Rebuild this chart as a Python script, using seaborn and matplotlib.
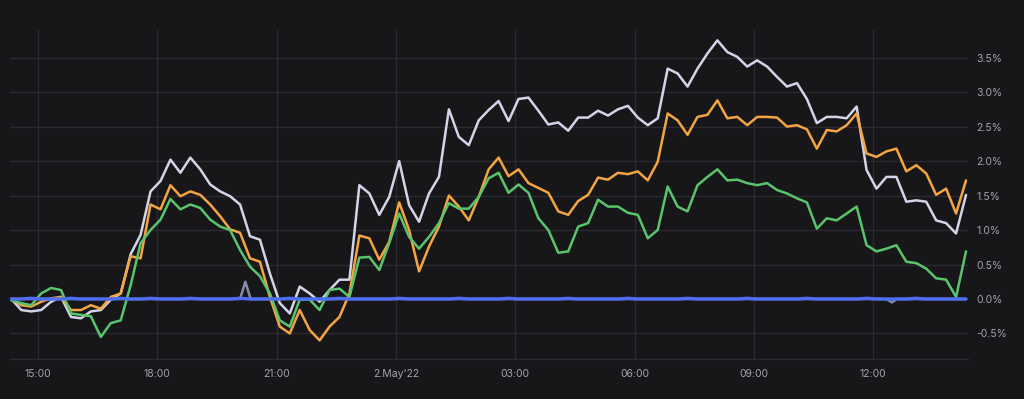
import pandas as pd
import matplotlib
matplotlib.use("Agg")
import matplotlib.pyplot as plt
import seaborn as sns

# 15-minute samples, 1 May 2022 14:20 -> 2 May 2022 14:20 (percent change)
times = pd.date_range("2022-05-01 14:20", "2022-05-02 14:20", freq="15min")

white = [0.00, -0.16, -0.18, -0.16, -0.04, 0.03, -0.26, -0.28, -0.18, -0.16,
         -0.01, 0.08, 0.65, 0.93, 1.56, 1.71, 2.02, 1.83, 2.05, 1.88,
         1.66, 1.56, 1.49, 1.37, 0.91, 0.86, 0.37, -0.06, -0.21, 0.18,
         0.08, -0.04, 0.13, 0.28, 0.28, 1.65, 1.53, 1.22, 1.48, 2.00,
         1.36, 1.12, 1.53, 1.77, 2.75, 2.35, 2.23, 2.59, 2.74, 2.87,
         2.58, 2.90, 2.92, 2.73, 2.53, 2.56, 2.44, 2.63, 2.63, 2.73,
         2.66, 2.75, 2.80, 2.63, 2.52, 2.62, 3.34, 3.27, 3.08, 3.34,
         3.56, 3.75, 3.58, 3.51, 3.37, 3.46, 3.37, 3.22, 3.08, 3.13,
         2.90, 2.55, 2.64, 2.64, 2.62, 2.79, 1.87, 1.60, 1.77, 1.77,
         1.41, 1.43, 1.41, 1.14, 1.10, 0.95, 1.51]

orange = [0.00, -0.09, -0.11, -0.04, 0.01, 0.03, -0.16, -0.16, -0.09, -0.14,
          0.03, 0.08, 0.62, 0.59, 1.37, 1.30, 1.65, 1.49, 1.56, 1.51,
          1.37, 1.20, 1.01, 0.96, 0.59, 0.54, 0.03, -0.40, -0.50, -0.16,
          -0.45, -0.60, -0.40, -0.26, 0.08, 0.92, 0.88, 0.57, 0.83, 1.40,
          1.00, 0.40, 0.76, 1.05, 1.50, 1.34, 1.14, 1.48, 1.88, 2.05,
          1.78, 1.88, 1.68, 1.61, 1.54, 1.27, 1.22, 1.42, 1.51, 1.76,
          1.73, 1.83, 1.81, 1.85, 1.72, 1.99, 2.69, 2.59, 2.38, 2.64,
          2.67, 2.88, 2.62, 2.64, 2.52, 2.64, 2.64, 2.63, 2.50, 2.52,
          2.46, 2.18, 2.45, 2.43, 2.52, 2.69, 2.11, 2.06, 2.14, 2.18,
          1.85, 1.94, 1.82, 1.51, 1.60, 1.24, 1.72]

green = [-0.02, -0.06, -0.09, 0.08, 0.16, 0.13, -0.21, -0.23, -0.25, -0.55,
         -0.35, -0.31, 0.20, 0.81, 1.00, 1.15, 1.45, 1.30, 1.37, 1.32,
         1.15, 1.05, 1.00, 0.71, 0.47, 0.33, 0.08, -0.31, -0.40, -0.01,
         -0.01, -0.16, 0.13, 0.15, 0.03, 0.60, 0.61, 0.42, 0.81, 1.24,
         0.90, 0.73, 0.90, 1.10, 1.39, 1.31, 1.31, 1.48, 1.75, 1.83,
         1.54, 1.66, 1.54, 1.17, 1.00, 0.67, 0.69, 1.05, 1.10, 1.44,
         1.34, 1.34, 1.25, 1.22, 0.88, 1.00, 1.63, 1.34, 1.27, 1.65,
         1.77, 1.88, 1.72, 1.73, 1.68, 1.65, 1.68, 1.58, 1.53, 1.46,
         1.40, 1.02, 1.17, 1.14, 1.24, 1.34, 0.78, 0.69, 0.73, 0.78,
         0.54, 0.52, 0.44, 0.30, 0.28, 0.03, 0.69]

blue = [0.00, 0.00, 0.01, 0.00, 0.00, 0.00, 0.01, 0.00, 0.00, 0.00,
        0.00, 0.01, 0.00, 0.00, 0.01, 0.00, 0.00, 0.00, 0.01, 0.00,
        0.00, 0.00, 0.00, 0.01, 0.00, 0.00, 0.00, 0.00, 0.01, 0.00,
        0.00, 0.00, 0.00, 0.01, 0.00, 0.00, 0.00, 0.00, 0.00, 0.01,
        0.00, 0.00, 0.00, 0.00, 0.00, 0.01, 0.00, 0.00, 0.00, 0.00,
        0.01, 0.00, 0.00, 0.00, 0.00, 0.00, 0.01, 0.00, 0.00, 0.00,
        0.00, 0.00, 0.01, 0.00, 0.00, 0.00, 0.00, 0.00, 0.01, 0.00,
        0.00, 0.00, 0.00, 0.00, 0.01, 0.00, 0.00, 0.00, 0.00, 0.00,
        0.01, 0.00, 0.00, 0.00, 0.00, 0.00, 0.01, 0.00, 0.00, 0.00,
        0.00, 0.01, 0.00, 0.00, 0.00, 0.00, 0.00]

# faint grey series, mostly hidden under the blue one
gray_times = pd.to_datetime(["2022-05-01 14:20", "2022-05-01 20:05", "2022-05-01 20:13",
                             "2022-05-01 20:21", "2022-05-02 12:20", "2022-05-02 12:28",
                             "2022-05-02 12:36", "2022-05-02 14:20"])
gray = [0.00, 0.00, 0.25, 0.00, 0.00, -0.05, 0.00, 0.00]

tick_times = pd.to_datetime(["2022-05-01 15:00", "2022-05-01 18:00", "2022-05-01 21:00",
                             "2022-05-02 00:00", "2022-05-02 03:00", "2022-05-02 06:00",
                             "2022-05-02 09:00", "2022-05-02 12:00"])
tick_labels = ["15:00", "18:00", "21:00", "2.May'22", "03:00", "06:00", "09:00", "12:00"]
y_ticks = [-0.5, 0.0, 0.5, 1.0, 1.5, 2.0, 2.5, 3.0, 3.5]

bg = "#17171a"
grid_col = "#2b2b2f"
text_col = "#a3a3ab"

sns.set_style("dark")
plt.rcParams["font.family"] = ["Inter", "DejaVu Sans"]

fig = plt.figure(figsize=(10.24, 3.99), dpi=100, facecolor=bg)
ax = fig.add_axes([10 / 1024, 1 - 359 / 399, 958 / 1024, 329 / 399])
ax.set_facecolor(bg)

df = pd.DataFrame({"time": times, "white": white, "orange": orange, "green": green, "blue": blue})
sns.lineplot(data=df, x="time", y="white", color="#d3d4e8", linewidth=1.8, ax=ax)
sns.lineplot(data=df, x="time", y="orange", color="#f2a541", linewidth=1.8, ax=ax)
sns.lineplot(data=df, x="time", y="green", color="#5ac46c", linewidth=1.8, ax=ax)
sns.lineplot(x=gray_times, y=gray, color="#858aa6", linewidth=1.8, ax=ax)
sns.lineplot(data=df, x="time", y="blue", color="#4d6ef2", linewidth=2.4, ax=ax)

ax.set_xlim(pd.Timestamp("2022-05-01 14:20") - pd.Timedelta(minutes=2),
            pd.Timestamp("2022-05-02 14:20") + pd.Timedelta(minutes=3))
ax.set_ylim(-0.87, 3.9)

ax.set_xticks(tick_times)
ax.set_xticklabels(tick_labels)
ax.set_yticks(y_ticks)
ax.set_yticklabels([f"{v:.1f}%" for v in y_ticks])
ax.yaxis.tick_right()

ax.grid(True, color=grid_col, linewidth=1)
ax.tick_params(axis="both", length=0, colors=text_col, labelsize=7.5)
ax.tick_params(axis="y", pad=6)
ax.tick_params(axis="x", pad=7)
ax.set_xlabel("")
ax.set_ylabel("")

for s in ["top", "left", "right"]:
    ax.spines[s].set_visible(False)
ax.spines["bottom"].set_color(grid_col)
ax.spines["bottom"].set_linewidth(1)

fig.savefig("out.png", dpi=100, facecolor=bg)
